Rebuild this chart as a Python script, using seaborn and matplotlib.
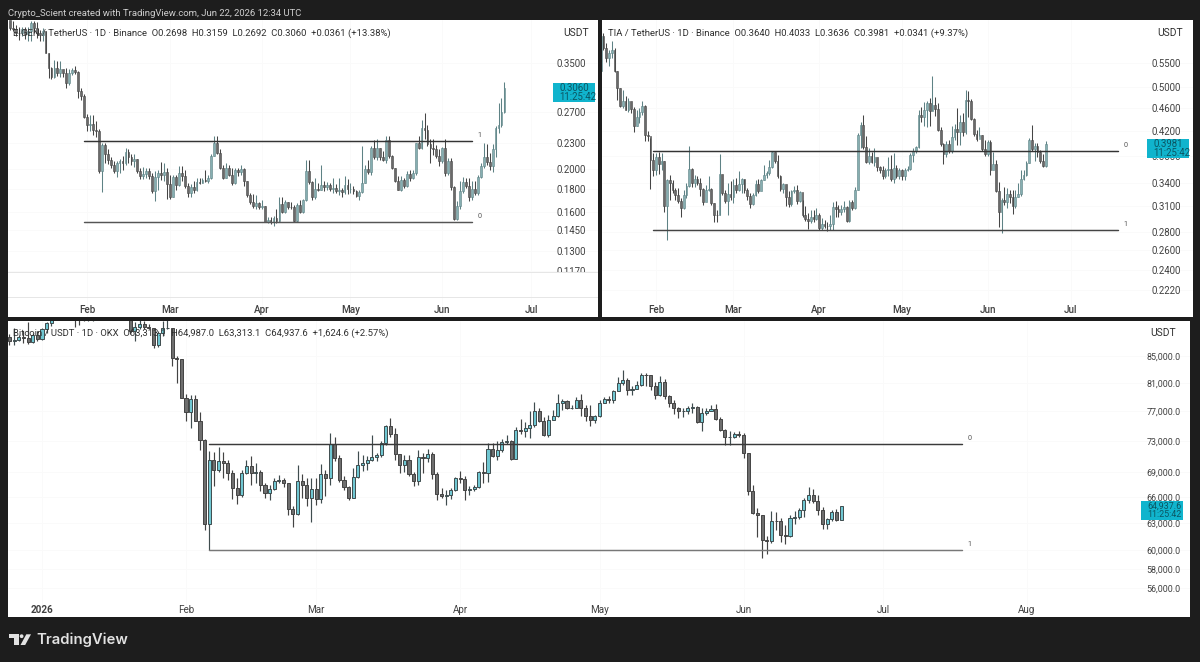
import datetime as dt
import matplotlib
matplotlib.use("Agg")
import matplotlib.pyplot as plt
import matplotlib.dates as mdates
from matplotlib.patches import Polygon, Circle, Rectangle
from matplotlib.ticker import NullLocator
from matplotlib.transforms import Bbox, TransformedBbox, IdentityTransform
import pandas as pd
import seaborn as sns

# ---- EIGEN / TetherUS daily candles (last session 2026-06-22) ----
eigen_open_first = 0.4400
eigen_close = [
 .4205,.4185,.4110,.4092,.4185,.4070,.4150,.4314,.4205,.4092,
 .4050,.4150,.3696,.3405,.3257,.3416,.3323,.3394,.3312,.3158,
 .3312,.3367,.3345,.3020,.2949,.2627,.2521,.2535,.2457,.2443,
 .1978,.2268,.2163,.2104,.2046,.1978,.2066,.2092,.2066,.2190,
 .2131,.2084,.2116,.1978,.1928,.1950,.1984,.1928,.1780,.1921,.1961,
 .1944,.1968,.1846,.1730,.1921,.1836,.1961,.1928,.1829,.1763,
 .1823,.1790,.1872,.1862,.1888,.1878,.1911,.2143,.2299,.2182,
 .2010,.1911,.2010,.1944,.1862,.1987,.1968,.2004,.1878,.1747,
 .1687,.1646,.1673,.1640,.1651,.1516,.1527,.1516,.1546,.1524,
 .1668,.1597,.1681,.1640,.1638,.1524,.1654,.1597,.1700,.1978,
 .1869,.1724,.1806,.1796,.1840,.1820,.1836,.1803,.1810,.1786,.1790,
 .1770,.1836,.1803,.1806,.1780,.1737,.1770,.1855,.2004,.1968,
 .2233,.2135,.2233,.2131,.2104,.2330,.2143,.2010,.1878,.1796,
 .1887,.1828,.1955,.1911,.1962,.2293,.2237,.2485,.2453,.2289,
 .2237,.2221,.2146,.2088,.2233,.1962,.2091,.1818,.1542,.1648,
 .1787,.1870,.1832,.1726,.1799,.1760,.1921,.2037,.2130,.2080,
 .2030,.2221,.2485,.2520,.2698,.3060]
eigen_high = [
 .4370,.4370,.4276,.4240,.4240,.4240,.4240,.4370,.4370,.4342,
 .4165,.4205,.4150,.3696,.3433,.3556,.3544,.3530,.3378,.3416,
 .3389,.3405,.3446,.3350,.3076,.2965,.2673,.2659,.2659,.2581,
 .2466,.2299,.2299,.2221,.2135,.2084,.2084,.2112,.2143,.2241,
 .2221,.2163,.2163,.2112,.2010,.2020,.2010,.2010,.1961,.1978,.1994,
 .2073,.2066,.2010,.1944,.1944,.1944,.2035,.2035,.1994,.1862,
 .1846,.1878,.1911,.1911,.1911,.1994,.1935,.2163,.2377,.2385,
 .2221,.2046,.2066,.2046,.2010,.2010,.2010,.2046,.2010,.1878,
 .1763,.1756,.1747,.1687,.1700,.1651,.1552,.1552,.1565,.1619,
 .1730,.1730,.1700,.1687,.1687,.1660,.1673,.1700,.1714,.2096,
 .2104,.1878,.1911,.1862,.2046,.1880,.1869,.1862,.1911,.1846,.1911,
 .1813,.1928,.1895,.1862,.1829,.1796,.1796,.2260,.2046,.2104,
 .2260,.2338,.2346,.2241,.2201,.2385,.2385,.2151,.2010,.1928,
 .1928,.1911,.1979,.1996,.1996,.2301,.2381,.2598,.2694,.2525,
 .2349,.2349,.2269,.2221,.2253,.2341,.2118,.2118,.1835,.1690,
 .1877,.1921,.1911,.1911,.1877,.1877,.1945,.2064,.2301,.2281,
 .2178,.2281,.2510,.2838,.2910,.3159]
eigen_low = [
 .4165,.4132,.4026,.3960,.4026,.3973,.3927,.3927,.4092,.3993,
 .3927,.3927,.3696,.3240,.3213,.3240,.3268,.3257,.3257,.3076,
 .3114,.3280,.3295,.2910,.2880,.2613,.2443,.2443,.2396,.2369,
 .1961,.1770,.2066,.2058,.2010,.1961,.1921,.1961,.1994,.2046,
 .2066,.2046,.2027,.1961,.1895,.1900,.1911,.1895,.1763,.1695,.1796,
 .1888,.1878,.1714,.1714,.1730,.1796,.1829,.1878,.1813,.1730,
 .1724,.1763,.1780,.1846,.1855,.1869,.1862,.1895,.2143,.2163,
 .2001,.1895,.1911,.1928,.1836,.1846,.1928,.1944,.1829,.1730,
 .1668,.1633,.1619,.1619,.1625,.1511,.1506,.1498,.1484,.1506,
 .1516,.1587,.1592,.1619,.1619,.1516,.1516,.1587,.1592,.1695,
 .1846,.1700,.1714,.1780,.1790,.1780,.1796,.1780,.1763,.1763,.1747,
 .1730,.1756,.1756,.1763,.1756,.1724,.1705,.1763,.1855,.1954,
 .1944,.2112,.2104,.2104,.2084,.2066,.2124,.2001,.1869,.1790,
 .1787,.1811,.1821,.1877,.1901,.1945,.2221,.2229,.2341,.2261,
 .2064,.2158,.2118,.2030,.2064,.1928,.1945,.1794,.1530,.1530,
 .1620,.1760,.1811,.1690,.1704,.1746,.1746,.1911,.2013,.2047,
 .1996,.1969,.2138,.2421,.2501,.2692]
eigen_ticks = [0.35, 0.27, 0.23, 0.20, 0.18, 0.16, 0.145, 0.13, 0.117]
eigen_tick_labels = ["0.3500", "0.2700", "0.2300", "0.2000", "0.1800",
                     "0.1600", "0.1450", "0.1300", "0.1170"]
eigen_levels = [0.2317, 0.1515]
eigen_level_labels = ["1", "0"]

# ---- TIA / TetherUS daily candles ----
tia_open_first = 0.5329
tia_close = [
 .6134,.5847,.5617,.5725,.5806,.5329,.4977,.4631,.4725,.4568,
 .4725,.4580,.4283,.4430,.4526,.4644,.4134,.4107,.3738,.3594,
 .3776,.3680,.3714,.3102,.3440,.3402,.3312,.3249,.3165,.3081,
 .3241,.3368,.3608,.3411,.3464,.3411,.3320,.3152,.3304,.3325,
 .3144,.2998,.2990,.3532,.3270,.3165,.3262,.3220,.3378,.3304,
 .3392,.3464,.3304,.3236,.3131,.3241,.3392,.3300,.3440,.3512,
 .3546,.3632,.3850,.3713,.3508,.3320,.3392,.3220,.3131,.3291,
 .3304,.3173,.3278,.2998,.2943,.2924,.2966,.2943,.2990,.2839,
 .2891,.2868,.2861,.2891,.3094,.3068,.3026,.3072,.3094,.2920,
 .3160,.3081,.3304,.4124,.4300,.3927,.3704,.3800,.3704,.3786,
 .3628,.3580,.3508,.3584,.3608,.3460,.3618,.3508,.3584,.3508,
 .3584,.3608,.3810,.3878,.3933,.4464,.4430,.4555,.4694,.4549,
 .4650,.4580,.4216,.3988,.3820,.3988,.3872,.4096,.4234,.4173,
 .4344,.4173,.4744,.4732,.4400,.4140,.4063,.4129,.3900,.3820,
 .4014,.3594,.3680,.3300,.3026,.3178,.3152,.3262,.3215,.3110,
 .3220,.3262,.3464,.3512,.3690,.4052,.3900,.3955,.3861,.3714,
 .3640,.3981]
tia_high = [
 .6257,.6216,.5970,.5806,.6011,.5847,.5329,.4977,.4933,.4820,
 .4788,.4662,.4618,.4568,.4605,.4725,.4662,.4189,.4079,.3834,
 .3834,.3861,.3834,.3714,.3460,.3522,.3450,.3333,.3333,.3207,
 .3312,.3402,.3944,.3618,.3522,.3498,.3474,.3333,.3378,.3498,
 .3333,.3144,.3060,.3820,.3522,.3312,.3402,.3426,.3460,.3474,
 .3570,.3474,.3460,.3333,.3270,.3270,.3450,.3460,.3460,.3666,
 .3570,.3738,.3872,.3861,.3810,.3522,.3402,.3362,.3291,.3312,
 .3362,.3378,.3291,.3186,.3102,.3019,.3060,.3052,.3081,.3019,
 .2956,.2935,.2917,.2998,.3152,.3165,.3123,.3123,.3165,.3102,
 .3186,.3186,.3354,.4162,.4354,.4476,.4107,.3916,.3861,.3916,
 .3690,.3642,.3642,.3618,.3786,.3810,.3834,.3666,.3618,.3608,
 .3618,.3651,.3834,.3916,.3955,.4568,.4618,.4706,.4725,.4788,
 .5235,.4807,.4694,.4261,.3999,.4025,.4052,.4272,.4316,.4605,
 .4474,.4505,.4933,.4914,.4769,.4412,.4217,.4261,.4134,.4041,
 .4041,.4041,.3861,.3738,.3416,.3207,.3346,.3333,.3304,.3304,
 .3304,.3402,.3594,.3594,.3714,.4079,.4300,.4003,.4003,.3889,
 .3820,.4033]
tia_low = [
 .5329,.5806,.5523,.5437,.5617,.5307,.4757,.4618,.4605,.4555,
 .4530,.4505,.4173,.4272,.4327,.4474,.4025,.4025,.3320,.3498,
 .3522,.3536,.3594,.3026,.2706,.3186,.3270,.3186,.3144,.2977,
 .3068,.3207,.3354,.3354,.3354,.3378,.3228,.3123,.3186,.3291,
 .3123,.2917,.2917,.2990,.3249,.3144,.2990,.3186,.3144,.3270,
 .3291,.3270,.3270,.3186,.3081,.3123,.3228,.3270,.3402,.3440,
 .3474,.3522,.3618,.3690,.3474,.3291,.3270,.3102,.3094,.3110,
 .3270,.3135,.3152,.2977,.2928,.2831,.2898,.2917,.2935,.2824,
 .2824,.2843,.2806,.2824,.2824,.2977,.2977,.2998,.3026,.2917,
 .2917,.3060,.3068,.3304,.3916,.3900,.3690,.3680,.3690,.3652,
 .3570,.3546,.3460,.3474,.3508,.3426,.3402,.3474,.3460,.3450,
 .3440,.3570,.3584,.3699,.3845,.3916,.4355,.4272,.4261,.4272,
 .4536,.4456,.4189,.3955,.3680,.3786,.3834,.3834,.4052,.3970,
 .3970,.4107,.4151,.4443,.4382,.4107,.4025,.4107,.3878,.3796,
 .3796,.3522,.3603,.3278,.2854,.2788,.3123,.3081,.3144,.3010,
 .3081,.3220,.3236,.3450,.3498,.3690,.3878,.3714,.3786,.3690,
 .3628,.3636]
tia_ticks = [0.55, 0.50, 0.46, 0.42, 0.38, 0.34, 0.31, 0.28, 0.26, 0.24, 0.222]
tia_tick_labels = ["0.5500", "0.5000", "0.4600", "0.4200", "0.3800", "0.3400",
                   "0.3100", "0.2800", "0.2600", "0.2400", "0.2220"]
tia_levels = [0.3864, 0.2818]
tia_level_labels = ["0", "1"]

# ---- Bitcoin / USDT daily candles ----
btc_open_first = 88000
btc_close = [
 87383,87550,87930,87820,87165,88260,87710,
 89190,90120,90830,91600,93000,93500,92000,91000,90800,90600,90700,91200,95000,
 96500,95500,95500,95000,95000,93000,88900,89570,90000,89570,89460,86620,88640,89352,89462,84678,84528,
 78817,76930,78720,75660,73130,62860,70560,69300,70350,70140,68880,67050,66260,68840,69720,68880,68960,
 67440,66460,66970,67920,68090,67640,64600,64010,67920,67440,65870,66970,
 65790,68760,68260,72600,70760,68050,67240,65870,68390,69930,70140,70560,70850,71180,72700,74900,73870,
 71270,69926,70473,68782,67862,70900,70770,71325,68782,66382,66142,66262,66782,68262,
 68182,66862,66982,67182,68990,68862,71920,71070,71750,72890,73020,70650,74370,74320,74680,75040,77070,
 75670,73780,75810,76350,78090,78420,77390,77480,78570,77390,76260,75810,76350,
 78180,78660,78570,79860,80960,81440,80000,80150,80720,82200,82160,80480,79290,81060,79050,78090,77390,
 77030,77070,77480,77612,75490,76710,77070,77250,75900,74450,73560,73560,73920,73780,
 71380,66730,64110,63840,61040,60970,63250,63180,61670,61485,63520,63720,64430,65630,66260,65550,64510,
 62890,63440,64230,63313,64937.6]
btc_high = [
 88368,89462,88260,88915,90280,88640,88915,
 89352,90280,91376,92500,93800,94500,93600,92500,92000,91600,91800,92300,96500,
 97500,97200,96000,96000,95500,95300,92500,90280,91100,90556,90000,89460,88915,90556,91376,89462,84928,
 84178,79385,79280,79280,76930,73260,71690,71600,72230,71600,70560,69300,68260,69300,70560,70980,70140,
 69300,67640,67440,68260,68680,68260,67640,64900,69930,68760,68260,68260,
 68260,70010,69300,74000,73560,71180,68470,67360,69510,71690,71180,70980,73700,71400,72910,75130,75990,
 74680,71325,71200,71200,69075,71840,71410,71990,71490,69075,67062,66862,67062,68462,
 69200,68542,67262,67462,69200,70260,72680,72770,73020,73190,73780,73106,74820,75900,75440,77070,78330,
 77390,76170,76490,77160,79430,78660,78570,77850,78950,79430,77850,77850,76490,
 78570,78950,79050,80000,81820,82900,81680,80480,81200,82396,82396,82160,81060,82010,81530,79290,78570,
 77612,77390,77700,78090,77700,77390,77390,77850,77990,76170,74550,74230,74100,74230,
 74000,71380,67450,64700,63920,61485,64310,64190,63520,62780,63920,64310,64700,65840,67240,66910,66260,
 64780,63600,64430,64590,64987.0]
btc_low = [
 86727,86727,87274,87000,86836,87000,87274,
 87550,88640,89735,90700,91500,92500,91000,89570,89900,90560,90560,90450,91200,
 95000,95000,94500,94300,94300,92800,88368,87383,89190,89190,89190,86178,86450,88100,89190,83428,80930,
 78817,75660,74680,75660,71810,62230,60000,67360,69010,68260,68050,65790,65160,65950,68760,67440,67640,
 66650,65870,65670,66850,67640,67240,63900,62490,63900,65870,64900,63080,
 65080,65280,66060,67440,70350,67840,66850,65670,65870,68260,69090,69300,70350,70430,70850,72480,73430,
 70560,68862,69075,68540,67340,67460,68862,70260,68140,65582,65862,65062,65742,66662,
 67662,65662,66262,66662,67062,67662,67740,70900,70480,71490,72600,70560,70650,73920,73560,73330,74820,
 75440,73620,73560,75810,76170,77160,77250,77250,77390,76260,75670,74990,75350,
 76170,78090,78090,78090,79760,80720,79290,79290,80100,80480,80480,79910,78660,79050,78660,77612,76620,
 76030,76170,76620,76800,75350,74230,76490,76940,75810,74230,72470,72470,73330,73560,
 70770,66260,64030,61430,59150,59530,60750,62220,60820,60670,61410,62890,63440,63720,65300,65300,63920,
 62290,62290,63250,63210,63313.1]
btc_ticks = [85000, 81000, 77000, 73000, 69000, 66000, 63000, 60000, 58000, 56000]
btc_tick_labels = ["85,000.0", "81,000.0", "77,000.0", "73,000.0", "69,000.0",
                   "66,000.0", "63,000.0", "60,000.0", "58,000.0", "56,000.0"]
btc_levels = [72560, 60000]
btc_level_labels = ["0", "1"]

eigen_title = "EIGEN / TetherUS · 1D · Binance  O0.2698  H0.3159  L0.2692  C0.3060  +0.0361 (+13.38%)"
tia_title = "TIA / TetherUS · 1D · Binance  O0.3640  H0.4033  L0.3636  C0.3981  +0.0341 (+9.37%)"
btc_title = "Bitcoin / USDT · 1D · OKX  O63,313.1  H64,987.0  L63,313.1  C64,937.6  +1,624.6 (+2.57%)"
eigen_last = "0.3060"
tia_last = "0.3981"
btc_last = "64,937.6"
countdown = "11:25:42"

month_ticks = ["2026-02-01", "2026-03-01", "2026-04-01", "2026-05-01", "2026-06-01", "2026-07-01"]
month_labels = ["Feb", "Mar", "Apr", "May", "Jun", "Jul"]
btc_month_ticks = ["2026-01-01"] + month_ticks + ["2026-08-01"]
btc_month_labels = ["2026"] + month_labels + ["Aug"]

sns.set_theme(style="white")
plt.rcParams["font.family"] = ["Roboto", "DejaVu Sans"]
plt.rcParams["text.color"] = "#2f2f2f"

BG = "#1d1d1d"
W, H = 1200, 662
fig = plt.figure(figsize=(12, 6.62), dpi=100, facecolor=BG)


def fx(x):
    return x / W


def fy(y):
    return 1 - y / H


def label(x, y, text, **kw):
    kw.setdefault("va", "center")
    kw.setdefault("fontsize", 6.8)
    return fig.text(fx(x), fy(y), text, **kw)


def make_axes(left, top, right, bottom):
    ax = fig.add_axes([fx(left), fy(bottom), (right - left) / W, (bottom - top) / H], facecolor="white")
    for side in ax.spines.values():
        side.set_visible(False)
    ax.set_yscale("log")
    return ax


def candles(ax, first_open, closes, highs, lows, width, body_lw, up_face, up_edge, down_face, down_edge, wick_lw):
    frame = pd.DataFrame({
        "date": pd.date_range(end="2026-06-22", periods=len(closes)),
        "open": [first_open] + list(closes[:-1]),
        "close": closes, "high": highs, "low": lows,
    })
    up = frame[frame.close >= frame.open]
    down = frame[frame.close < frame.open]
    for part, face, edge in ((down, down_face, down_edge), (up, up_face, up_edge)):
        ax.vlines(part.date, part.low, part.high, color=edge, lw=wick_lw, zorder=2)
        ax.bar(part.date, (part.close - part.open).abs(), bottom=part[["open", "close"]].min(axis=1),
               width=width, color=face, edgecolor=edge, linewidth=body_lw, zorder=3)
    return frame


def levels(ax, values, names, start, end, colors):
    ends = pd.to_datetime([start, end])
    for value, name, color in zip(values, names, colors):
        sns.lineplot(x=ends, y=[value, value], ax=ax, color=color, lw=1.05, legend=False, zorder=4)
        ax.annotate(name, xy=(ends[1], value), xytext=(4.3, 4), textcoords="offset points",
                    fontsize=5.2, color="#555555", va="center", ha="left")
    ax.set_xlabel("")
    ax.set_ylabel("")


def axis_labels(ax, ticks, tick_labels, xticks, xlabels, pad_px, x_weight, y_size):
    ax.set_yticks(ticks)
    ax.set_yticklabels(tick_labels)
    ax.yaxis.set_minor_locator(NullLocator())
    ax.yaxis.tick_right()
    ax.tick_params(axis="y", length=0, pad=-pad_px * 0.72, labelsize=y_size, labelcolor="#404040")
    ax.set_xticks(pd.to_datetime(xticks))
    ax.set_xticklabels(xlabels, fontweight=x_weight)
    ax.tick_params(axis="x", length=0, pad=-12 * 0.72, labelsize=7.1, labelcolor="#404040")
    ax.grid(True, color="#fafafa", lw=0.7)
    ax.set_axisbelow(True)


def price_tag(ax, x0, x1, price, first, second, size):
    # Last-price badge on the scale, hung from the closing price
    y_disp = ax.transData.transform((mdates.date2num(dt.date(2026, 6, 22)), price))[1]
    top = y_disp + 5
    box = Rectangle((x0, top - 19), x1 - x0, 19, transform=IdentityTransform(),
                    facecolor="#10b4cd", edgecolor="none", zorder=6)
    fig.add_artist(box)
    for text, dy in ((first, 5), (second, 14)):
        fig.text(x0 + 6, top - dy, text, transform=IdentityTransform(), fontsize=size,
                 color="#0b5663", va="center", ha="left", zorder=7)


up_thin, up_thin_edge = "#86aeb1", "#5e8285"
down_thin, down_thin_edge = "#6a6a6a", "#454545"

# EIGEN panel
ax1 = make_axes(8, 20, 597.7, 316.7)
candles(ax1, eigen_open_first, eigen_close, eigen_high, eigen_low, 0.62, 0.4,
        up_thin, up_thin_edge, down_thin, down_thin_edge, 0.75)
levels(ax1, eigen_levels, eigen_level_labels, "2026-01-31", "2026-06-11", ["#333333", "#555555"])
axis_labels(ax1, eigen_ticks, eigen_tick_labels, month_ticks, month_labels, 41, "medium", 6.9)
ax1.set_ylim(0.35 * 2.71828 ** (-(316.7 - 63) / 189.8), 0.35 * 2.71828 ** ((63 - 20) / 189.8))
ax1.set_xlim(mdates.date2num(dt.date(2026, 2, 1)) - 26.69, mdates.date2num(dt.date(2026, 2, 1)) + 172.5)
price_tag(ax1, 553.3, 595, eigen_close[-1], eigen_last, countdown, 6.9)
for px_y in (272.8, 298):
    fig.add_artist(Rectangle((fx(8), fy(px_y)), 589.7 / W, 1 / H, transform=fig.transFigure,
                             facecolor="#e6e6e6", edgecolor="none", zorder=5))
for tick_label in ax1.get_yticklabels():
    if tick_label.get_text() == "0.1170":
        tick_label.set_clip_box(TransformedBbox(Bbox([[fx(8), fy(272.8)], [fx(597), fy(250)]]), fig.transFigure))
        tick_label.set_clip_on(True)

# TIA panel
ax2 = make_axes(602, 20, 1192.5, 316.7)
candles(ax2, tia_open_first, tia_close, tia_high, tia_low, 0.62, 0.4,
        up_thin, up_thin_edge, down_thin, down_thin_edge, 0.75)
levels(ax2, tia_levels, tia_level_labels, "2026-01-31", "2026-07-18", ["#333333", "#444444"])
axis_labels(ax2, tia_ticks, tia_tick_labels, month_ticks, month_labels, 41.5, "medium", 6.9)
ax2.set_ylim(0.55 * 2.71828 ** (-(316.7 - 63.3) / 249.6), 0.55 * 2.71828 ** ((63.3 - 20) / 249.6))
ax2.set_xlim(mdates.date2num(dt.date(2026, 2, 1)) - 19.54, mdates.date2num(dt.date(2026, 2, 1)) + 194.1)
price_tag(ax2, 1147.3, 1189.3, tia_close[-1], tia_last, countdown, 6.9)

# BTC panel
ax3 = make_axes(8, 320.5, 1190, 616.7)
candles(ax3, btc_open_first, btc_close, btc_high, btc_low, 0.66, 0.7,
        "#70c7d2", "#3f4c4e", "#6e6e6e", "#434343", 0.85)
levels(ax3, btc_levels, btc_level_labels, "2026-02-06", "2026-07-18", ["#3a3a3a", "#777777"])
axis_labels(ax3, btc_ticks, btc_tick_labels, btc_month_ticks, btc_month_labels, 43.3, "normal", 6.4)
ax3.get_xticklabels()[0].set_fontweight("bold")
ax3.set_ylim(85000 * 2.71828 ** (-(616.7 - 356) / 557), 85000 * 2.71828 ** ((356 - 320.5) / 557))
ax3.set_xlim(mdates.date2num(dt.date(2026, 1, 1)) - 7.32, mdates.date2num(dt.date(2026, 1, 1)) + 247.1)
price_tag(ax3, 1141, 1182.7, btc_close[-1], btc_last, countdown, 6.4)

# Legends drawn over the candles
label(13, 33, eigen_title, zorder=8)
label(608, 33, tia_title, zorder=8)
label(13, 333.5, btc_title, zorder=8)
label(563, 33, "USDT", zorder=8, fontsize=7.4)
label(1157, 33, "USDT", zorder=8, fontsize=7.4)
label(1150, 333.5, "USDT", zorder=8, fontsize=7.4)

# Header and footer on the dark frame
label(7.5, 13, "Crypto_Scient created with TradingView.com, Jun 22, 2026 12:34 UTC",
      color="#cfcfcf", fontsize=6.8)
label(36, 640, "TradingView", color="#e2e2e2", fontsize=10.7, fontweight="semibold", family="Inter")

logo = "#e2e2e2"
fig.add_artist(Polygon([(fx(x), fy(y)) for x, y in
                        [(9, 634.3), (19, 634.3), (19, 645), (13.5, 645), (13.5, 638.2), (9, 638.2)]],
                       closed=True, transform=fig.transFigure, facecolor=logo, edgecolor="none"))
fig.add_artist(Polygon([(fx(x), fy(y)) for x, y in
                        [(26.3, 634.3), (31, 634.3), (25.2, 645), (20.5, 645)]],
                       closed=True, transform=fig.transFigure, facecolor=logo, edgecolor="none"))
fig.add_artist(Circle((21.6, H - 636.2), 1.9, transform=IdentityTransform(), facecolor=logo, edgecolor="none"))

fig.savefig("out.png", dpi=100, facecolor=BG)
